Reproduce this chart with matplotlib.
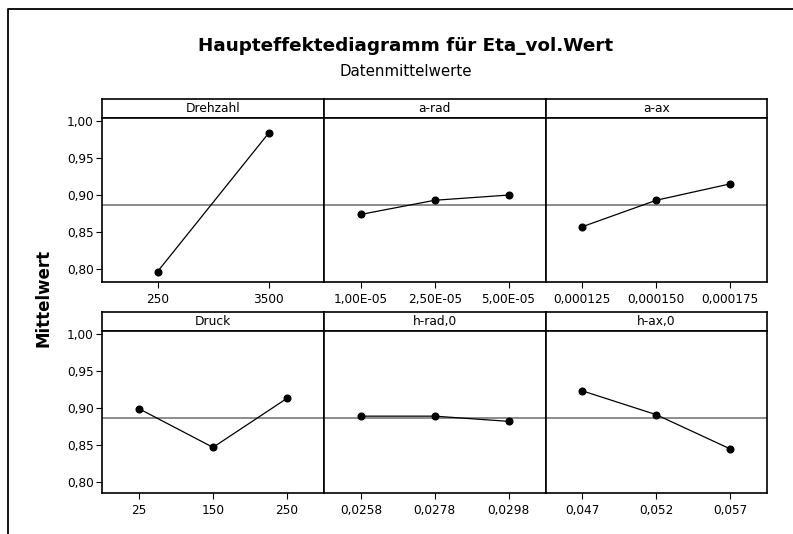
import matplotlib
matplotlib.use("Agg")
import matplotlib.pyplot as plt
from matplotlib.lines import Line2D

# =====================
# Data
# =====================

factors = ["Drehzahl", "a-rad", "a-ax", "Druck", "h-rad,0", "h-ax,0"]

drehzahl_levels = ["250", "3500"]
drehzahl_means = [0.797, 0.983]

arad_levels = ["1,00E-05", "2,50E-05", "5,00E-05"]
arad_means = [0.874, 0.893, 0.900]

aax_levels = ["0,000125", "0,000150", "0,000175"]
aax_means = [0.8575, 0.893, 0.915]

druck_levels = ["25", "150", "250"]
druck_means = [0.899, 0.847, 0.913]

hrad_levels = ["0,0258", "0,0278", "0,0298"]
hrad_means = [0.889, 0.889, 0.882]

hax_levels = ["0,047", "0,052", "0,057"]
hax_means = [0.923, 0.891, 0.845]

grand_mean = 0.887

y_ticks = [0.80, 0.85, 0.90, 0.95, 1.00]
y_ticklabels = ["0,80", "0,85", "0,90", "0,95", "1,00"]

levels = [drehzahl_levels, arad_levels, aax_levels,
          druck_levels, hrad_levels, hax_levels]
means = [drehzahl_means, arad_means, aax_means,
         druck_means, hrad_means, hax_means]

# =====================
# Layout (pixels)
# =====================

W, H = 793, 534
fig = plt.figure(figsize=(W / 100, H / 100), dpi=100)
plt.rcParams["font.family"] = "DejaVu Sans"


def px_axes(x0, y0, x1, y1):
    # y measured from top in pixels
    return fig.add_axes([x0 / W, 1 - y1 / H, (x1 - x0) / W, (y1 - y0) / H])


col_edges = [102, 324, 545.5, 767]
rows = [
    # header top, header bottom, axis bottom, ylim
    (99, 118, 281.7, (0.7835, 1.0036)),
    (312, 331, 492.7, (0.786, 1.0036)),
]

# outer frame (cut at right/bottom like the original export)
fig.add_artist(Line2D([8 / W, 8 / W, 1.01], [-0.01, 1 - 9 / H, 1 - 9 / H],
                      transform=fig.transFigure, color="black", lw=1.3))

# =====================
# Panels
# =====================

for i, name in enumerate(factors):
    r, c = divmod(i, 3)
    h_top, h_bot, a_bot, ylim = rows[r]
    x0, x1 = col_edges[c], col_edges[c + 1]

    # header strip
    hax = px_axes(x0, h_top, x1, h_bot)
    hax.set_xticks([])
    hax.set_yticks([])
    for s in hax.spines.values():
        s.set_linewidth(1.2)
    hax.text(0.5, 0.48, name, ha="center", va="center",
             fontsize=8.8, transform=hax.transAxes)

    # data panel
    ax = px_axes(x0, h_bot, x1, a_bot)
    n = len(levels[i])
    xs = list(range(1, n + 1))

    ax.axhline(grand_mean, color="#6e6e6e", lw=1.1, zorder=1)
    ax.plot(xs, means[i], color="black", lw=0.9,
            marker="o", markersize=4.8, zorder=3)

    ax.set_xlim(0.5, n + 0.5)
    ax.set_ylim(*ylim)
    ax.set_xticks(xs)
    ax.set_xticklabels(levels[i], fontsize=8.7)

    if c == 0:
        ax.set_yticks(y_ticks)
        ax.set_yticklabels(y_ticklabels, fontsize=8.7)
    else:
        ax.set_yticks([])

    ax.tick_params(direction="out", length=4, width=0.8, pad=2)
    ax.tick_params(axis="x", pad=4)
    for s in ax.spines.values():
        s.set_linewidth(1.2)

# =====================
# Titles
# =====================

fig.text(406 / W, 1 - 46 / H, "Haupteffektediagramm für Eta_vol.Wert",
         ha="center", va="center", fontsize=13.2, fontweight="bold")
fig.text(406 / W, 1 - 72 / H, "Datenmittelwerte",
         ha="center", va="center", fontsize=10.8)
fig.text(43 / W, 1 - 298 / H, "Mittelwert", rotation=90,
         ha="center", va="center", fontsize=12, fontweight="bold")

plt.savefig("out.png", dpi=100)
